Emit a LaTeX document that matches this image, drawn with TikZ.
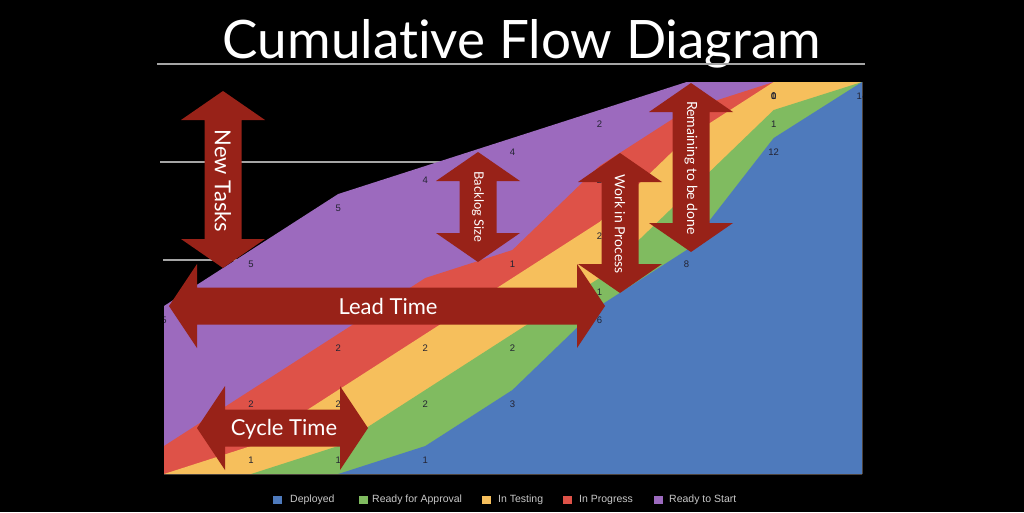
\documentclass[tikz,border=0pt]{standalone}
\usepackage{fontspec}
\setmainfont{Lato}[Ligatures={NoCommon}]
\newfontfamily\helv{Liberation Sans}
\definecolor{cblue}{RGB}{78,122,188}
\definecolor{cgreen}{RGB}{128,187,96}
\definecolor{cyellow}{RGB}{246,191,92}
\definecolor{cred}{RGB}{222,82,72}
\definecolor{cpurple}{RGB}{156,106,190}
\definecolor{arrowred}{RGB}{152,34,24}
\definecolor{gridgray}{RGB}{165,165,165}
\definecolor{legendgray}{RGB}{200,200,200}
\definecolor{labeldark}{RGB}{35,35,50}
\newcommand\VArrow[3]{%
  \fill[bigarrow] (#1,#2) -- ({#1+42},{#2+29}) -- ({#1+18.5},{#2+29}) -- ({#1+18.5},{#3-29})
   -- ({#1+42},{#3-29}) -- (#1,#3) -- ({#1-42},{#3-29}) -- ({#1-18.5},{#3-29})
   -- ({#1-18.5},{#2+29}) -- ({#1-42},{#2+29}) -- cycle;}
\newcommand\HArrow[3]{%
  \fill[bigarrow] (#2,#1) -- ({#2+28},{#1-42}) -- ({#2+28},{#1-18.5}) -- ({#3-28},{#1-18.5})
   -- ({#3-28},{#1-42}) -- (#3,#1) -- ({#3-28},{#1+42}) -- ({#3-28},{#1+18.5})
   -- ({#2+28},{#1+18.5}) -- ({#2+28},{#1+42}) -- cycle;}
\begin{document}
\begin{tikzpicture}[x=1pt,y=-1pt,
  gridline/.style={draw=gridgray,line width=1.3pt},
  bigarrow/.style={fill=arrowred},
  bigtext/.style={text=white,inner sep=0pt,font=\fontsize{22}{22}\selectfont},
  smalltext/.style={text=white,inner sep=0pt,font=\fontsize{14}{14}\selectfont},
  lab/.style={text=labeldark,inner sep=0pt,font=\helv\fontsize{9.5}{9.5}\selectfont},
  legsq/.style={minimum width=9pt,minimum height=8pt,inner sep=0pt,draw=none},
  legtxt/.style={text=legendgray,inner sep=0pt,anchor=west,font=\helv\fontsize{10.5}{10.5}\selectfont}]
\fill[black] (0,0) rectangle (1024,512);
\useasboundingbox (0,0) rectangle (1024,512);
% title
\node[text=white,anchor=base,inner sep=0pt,font=\fontsize{53}{53}\selectfont] (title) at (522,58) {Cumulative Flow Diagram};
% grid lines
\draw[gridline] (157,64) -- (865,64);
\draw[gridline] (160,162) -- (860,162);
\draw[gridline] (163,260) -- (860,260);
% chart areas
\fill[cpurple] (164,474) -- (164,306) -- (251.1,250) -- (338.2,194) -- (425.3,166) -- (512.4,138) -- (599.5,110) -- (686.6,82) -- (773.7,82) -- (862,82) -- (862,474) -- cycle;
\fill[cred] (164,474) -- (164,446) -- (251.1,390) -- (338.2,334) -- (425.3,278) -- (512.4,250) -- (599.5,166) -- (686.6,110) -- (773.7,82) -- (862,82) -- (862,474) -- cycle;
\fill[cyellow] (164,474) -- (251.1,446) -- (338.2,390) -- (425.3,334) -- (512.4,278) -- (599.5,222) -- (686.6,138) -- (773.7,82) -- (862,82) -- (862,474) -- cycle;
\fill[cgreen] (164,474) -- (251.1,474) -- (338.2,446) -- (425.3,390) -- (512.4,334) -- (599.5,278) -- (686.6,194) -- (773.7,110) -- (862,82) -- (862,474) -- cycle;
\fill[cblue] (164,474) -- (338.2,474) -- (425.3,446) -- (512.4,390) -- (599.5,306) -- (686.6,250) -- (773.7,138) -- (862,82) -- (862,474) -- cycle;
% data labels
\begin{scope}
\clip (164,82) rectangle (862,474);
\node[lab] (l05) at (164,320) {5};
\node[lab] (l11) at (251.1,460) {1};
\node[lab] (l12) at (251.1,404) {2};
\node[lab] (l13) at (251.1,264) {5};
\node[lab] (l21) at (338.2,460) {1};
\node[lab] (l22) at (338.2,404) {2};
\node[lab] (l23) at (338.2,348) {2};
\node[lab] (l24) at (338.2,208) {5};
\node[lab] (l31) at (425.3,460) {1};
\node[lab] (l32) at (425.3,404) {2};
\node[lab] (l33) at (425.3,348) {2};
\node[lab] (l34) at (425.3,292) {2};
\node[lab] (l35) at (425.3,180) {4};
\node[lab] (l41) at (512.4,404) {3};
\node[lab] (l42) at (512.4,348) {2};
\node[lab] (l43) at (512.4,292) {2};
\node[lab] (l44) at (512.4,264) {1};
\node[lab] (l45) at (512.4,152) {4};
\node[lab] (l51) at (599.5,320) {6};
\node[lab] (l52) at (599.5,292) {1};
\node[lab] (l53) at (599.5,236) {2};
\node[lab] (l54) at (599.5,180) {2};
\node[lab] (l55) at (599.5,124) {2};
\node[lab] (l61) at (686.6,264) {8};
\node[lab] (l62) at (686.6,208) {2};
\node[lab] (l63) at (686.6,152) {2};
\node[lab] (l64) at (686.6,124) {1};
\node[lab] (l65) at (686.6,96) {1};
\node[lab] (l71) at (773.7,152) {12};
\node[lab] (l72) at (773.7,124) {1};
\node[lab] (l73) at (773.7,96) {1};
\node[lab] (l74) at (773.7,96) {0};
\node[lab] (l75) at (773.7,96) {0};
\node[lab] (l81) at (862,96) {14};
\end{scope}
% big arrows
\VArrow{223}{91}{268}
\VArrow{478}{152}{262}
\VArrow{620}{153}{293}
\VArrow{691}{83}{252}
\HArrow{306}{169}{605}
\HArrow{428}{197}{368}
\node[bigtext,rotate=-90] (newtasks) at (223,181) {New Tasks};
\node[smalltext,rotate=-90,font=\fontsize{13}{13}\selectfont] (backlog) at (478,207) {Backlog Size};
\node[smalltext,rotate=-90] (wip) at (620,224) {Work in Process};
\node[smalltext,rotate=-90] (remaining) at (691,168) {Remaining to be done};
\node[bigtext] (leadtime) at (388,306) {Lead Time};
\node[bigtext] (cycletime) at (284,429) {Cycle Time};
% legend
\node[legsq,fill=cblue] (sq1) at (277.5,499.5) {};
\node[legtxt] (t1) at (290,499.5) {Deployed};
\node[legsq,fill=cgreen] (sq2) at (363.5,499.5) {};
\node[legtxt] (t2) at (372,499.5) {Ready for Approval};
\node[legsq,fill=cyellow] (sq3) at (486,499.5) {};
\node[legtxt] (t3) at (498,499.5) {In Testing};
\node[legsq,fill=cred] (sq4) at (567.5,499.5) {};
\node[legtxt] (t4) at (579,499.5) {In Progress};
\node[legsq,fill=cpurple] (sq5) at (658,499.5) {};
\node[legtxt] (t5) at (669,499.5) {Ready to Start};
\end{tikzpicture}
\end{document}
